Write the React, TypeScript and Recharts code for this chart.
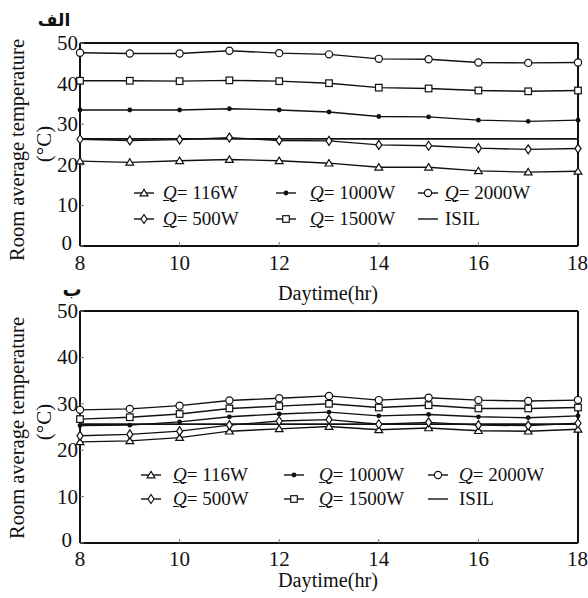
import { Legend, Line, LineChart, XAxis, YAxis } from "recharts";

const HOURS = [8, 9, 10, 11, 12, 13, 14, 15, 16, 17, 18];
const X_TICKS = [8, 10, 12, 14, 16, 18];
const Y_TICKS = [0, 10, 20, 30, 40, 50];

// panel الف
const A_Q116 = [20.9, 20.6, 21.0, 21.3, 21.0, 20.4, 19.4, 19.4, 18.5, 18.2, 18.4];
const A_Q500 = [26.3, 26.0, 26.2, 26.7, 26.0, 25.9, 24.9, 24.7, 24.1, 23.8, 24.0];
const A_Q1000 = [33.5, 33.5, 33.5, 33.8, 33.5, 33.0, 31.9, 31.8, 31.0, 30.7, 31.0];
const A_Q1500 = [40.7, 40.7, 40.6, 40.8, 40.6, 40.1, 39.0, 38.8, 38.3, 38.1, 38.3];
const A_Q2000 = [47.6, 47.4, 47.4, 48.1, 47.5, 47.2, 46.1, 46.0, 45.2, 45.1, 45.2];
const A_ISIL = [26.4, 26.4, 26.4, 26.4, 26.4, 26.4, 26.4, 26.4, 26.4, 26.4, 26.4];

// panel ب
const B_Q116 = [21.8, 22.0, 22.7, 24.1, 24.6, 25.1, 24.4, 24.8, 24.2, 24.1, 24.5];
const B_Q500 = [23.1, 23.4, 24.1, 25.4, 26.3, 26.6, 25.6, 26.0, 25.4, 25.3, 25.8];
const B_Q1000 = [25.3, 25.4, 26.1, 27.2, 27.8, 28.2, 27.4, 27.7, 27.2, 27.0, 27.4];
const B_Q1500 = [26.7, 27.1, 27.8, 29.0, 29.5, 30.0, 29.2, 29.7, 29.0, 29.0, 29.2];
const B_Q2000 = [28.7, 28.9, 29.6, 30.7, 31.2, 31.7, 30.8, 31.3, 30.8, 30.6, 30.8];
const B_ISIL = [25.6, 25.6, 25.6, 25.6, 25.6, 25.6, 25.6, 25.6, 25.6, 25.6, 25.6];

const SERIES_KEYS = ["q116", "q500", "q1000", "q1500", "q2000", "isil"];
const SERIES_LABELS = ["116W", "500W", "1000W", "1500W", "2000W", "ISIL"];
const SERIES_SHAPES = ["triangle", "diamond", "dot", "square", "circle", "none"];

const INK = "#111";
const SERIF = '"Liberation Serif", "Times New Roman", serif';

function rows(cols: number[][]) {
  return HOURS.map((h, i) => {
    const r: Record<string, number> = { h };
    SERIES_KEYS.forEach((k, j) => (r[k] = cols[j][i]));
    return r;
  });
}

const DATA_A = rows([A_Q116, A_Q500, A_Q1000, A_Q1500, A_Q2000, A_ISIL]);
const DATA_B = rows([B_Q116, B_Q500, B_Q1000, B_Q1500, B_Q2000, B_ISIL]);

function Mark({ shape, cx, cy }: { shape: string; cx: number; cy: number }) {
  const s = { fill: "#fff", stroke: INK, strokeWidth: 1.2 };
  switch (shape) {
    case "triangle":
      return <polygon points={`${cx},${cy - 3.6} ${cx + 3.9},${cy + 2.8} ${cx - 3.9},${cy + 2.8}`} {...s} />;
    case "diamond":
      return <polygon points={`${cx},${cy - 4.5} ${cx + 3},${cy} ${cx},${cy + 4.5} ${cx - 3},${cy}`} {...s} />;
    case "dot":
      return <circle cx={cx} cy={cy} r={2.4} fill={INK} />;
    case "square":
      return <rect x={cx - 3.3} y={cy - 3.3} width={6.6} height={6.6} {...s} />;
    case "circle":
      return <circle cx={cx} cy={cy} r={3.6} {...s} />;
    default:
      return null;
  }
}

// y tick: the "0" sits raised and left of the corner, clear of the "8"
function YTick(props: any) {
  const { x, y, payload } = props;
  const zero = payload.value === 0;
  return (
    <text
      x={x - (zero ? 6 : 0)}
      y={y - (zero ? 3 : 0)}
      textAnchor="end"
      dominantBaseline="central"
      fill={INK}
      fontSize={21}
      fontFamily={SERIF}
    >
      {payload.value}
    </text>
  );
}

type LegendLayout = { cols: number[]; textGap: number[]; rowsY: number[] };

function LegendBox({ layout }: { layout: LegendLayout }) {
  return (
    <div style={{ position: "relative", width: 0, height: 0 }}>
      {SERIES_KEYS.map((k, i) => {
        const col = Math.floor(i / 2);
        const row = i % 2;
        const isQ = k !== "isil";
        return (
          <div
            key={k}
            style={{
              position: "absolute",
              left: layout.cols[col],
              top: layout.rowsY[row] - 11,
              height: 22,
              display: "flex",
              alignItems: "center",
              whiteSpace: "nowrap",
              fontFamily: SERIF,
              fontSize: 19,
              color: INK,
            }}
          >
            <svg width={22} height={12} style={{ display: "block" }}>
              <line x1={1} x2={21} y1={6} y2={6} stroke={INK} strokeWidth={1.4} />
              <Mark shape={SERIES_SHAPES[i]} cx={11} cy={6} />
            </svg>
            <span style={{ marginLeft: layout.textGap[col] }}>
              {isQ ? (
                <>
                  <i style={{ textDecoration: "underline", textDecorationThickness: 1 }}>Q</i>= {SERIES_LABELS[i]}
                </>
              ) : (
                SERIES_LABELS[i]
              )}
            </span>
          </div>
        );
      })}
    </div>
  );
}

type PanelProps = {
  data: Record<string, number>[];
  top: number;
  height: number;
  marginTop: number;
  xAxisHeight: number;
  titleDy: number;
  tag: string;
  tagX: number;
  tagY: number;
  tagSize: number;
  xTitleY: number;
  legend: LegendLayout;
  tickMarginX: number;
};

function Panel(p: PanelProps) {
  const ry = 150 + p.titleDy;
  const cy = 144 + p.titleDy;
  const yTitle = () => (
    <g fill={INK} fontFamily={SERIF}>
      <text
        x={17}
        y={ry}
        transform={`rotate(-90 17 ${ry})`}
        textAnchor="middle"
        dominantBaseline="central"
        fontSize={20}
        textLength={222}
        lengthAdjust="spacingAndGlyphs"
      >
        Room average temperature
      </text>
      <text x={44} y={cy} transform={`rotate(-90 44 ${cy})`} textAnchor="middle" dominantBaseline="central" fontSize={21}>
        (°C)
      </text>
      <text
        x={p.tagX}
        y={p.tagY}
        textAnchor="middle"
        dominantBaseline="central"
        fontSize={p.tagSize}
        fontWeight="bold"
        fontFamily='"DejaVu Sans", sans-serif'
      >
        {p.tag}
      </text>
    </g>
  );
  const xTitle = () => (
    <text
      x={328}
      y={p.xTitleY}
      textAnchor="middle"
      dominantBaseline="central"
      fontSize={20}
      fill={INK}
      fontFamily={SERIF}
      textLength={100}
      lengthAdjust="spacingAndGlyphs"
    >
      Daytime(hr)
    </text>
  );
  const tick = { fill: INK, fontSize: 21, fontFamily: SERIF };
  const frame = { stroke: INK, strokeWidth: 2 };
  const inner = { stroke: "#777", strokeWidth: 1 };
  return (
    <div style={{ position: "absolute", left: 0, top: p.top }}>
      <LineChart width={588} height={p.height} data={p.data} margin={{ top: p.marginTop, right: 9, left: 0, bottom: 0 }}>
        <XAxis
          dataKey="h"
          type="number"
          domain={[8, 18]}
          ticks={X_TICKS}
          height={p.xAxisHeight}
          tick={tick}
          tickSize={-4}
          tickMargin={p.tickMarginX}
          axisLine={frame}
          tickLine={inner}
          label={{ content: xTitle }}
        />
        <XAxis
          xAxisId="top"
          dataKey="h"
          type="number"
          orientation="top"
          domain={[8, 18]}
          ticks={X_TICKS}
          height={1}
          tick={false}
          tickSize={-4}
          axisLine={frame}
          tickLine={inner}
        />
        <YAxis
          domain={[0, 50]}
          ticks={Y_TICKS}
          width={80}
          tick={<YTick />}
          tickSize={-4}
          tickMargin={6}
          axisLine={frame}
          tickLine={inner}
          label={{ content: yTitle }}
        />
        <YAxis
          yAxisId="right"
          orientation="right"
          domain={[0, 50]}
          ticks={Y_TICKS}
          width={1}
          tick={false}
          tickSize={-4}
          axisLine={frame}
          tickLine={inner}
        />
        <Legend
          layout="horizontal"
          verticalAlign="middle"
          align="center"
          wrapperStyle={{ left: 0, top: 0, width: 0, height: 0, margin: 0, padding: 0 }}
          content={() => <LegendBox layout={p.legend} />}
        />
        {SERIES_KEYS.map((k, i) => (
          <Line
            key={k}
            dataKey={k}
            stroke={INK}
            strokeWidth={k === "isil" ? 1.8 : 1.4}
            isAnimationActive={false}
            dot={
              SERIES_SHAPES[i] === "none"
                ? false
                : (d: any) => <Mark key={`${k}-${d.index}`} shape={SERIES_SHAPES[i]} cx={d.cx} cy={d.cy} />
            }
            activeDot={false}
          />
        ))}
      </LineChart>
    </div>
  );
}

export default function App() {
  return (
    <div style={{ position: "absolute", left: 0, top: 0, width: 588, height: 598, background: "#fff", fontFamily: SERIF }}>
      <Panel
        data={DATA_A}
        top={0}
        height={310}
        marginTop={42}
        xAxisHeight={64}
        titleDy={0}
        tag="الف"
        tagX={54}
        tagY={20}
        tagSize={17}
        xTitleY={293}
        tickMarginX={13}
        legend={{ cols: [133, 275, 417], textGap: [8, 13, 6], rowsY: [193, 219] }}
      />
      <Panel
        data={DATA_B}
        top={268}
        height={330}
        marginTop={42}
        xAxisHeight={55}
        titleDy={10}
        tag="ب"
        tagX={72}
        tagY={21}
        tagSize={19}
        xTitleY={312}
        tickMarginX={12}
        legend={{ cols: [140, 283, 427], textGap: [11, 14, 10], rowsY: [207, 231] }}
      />
    </div>
  );
}
